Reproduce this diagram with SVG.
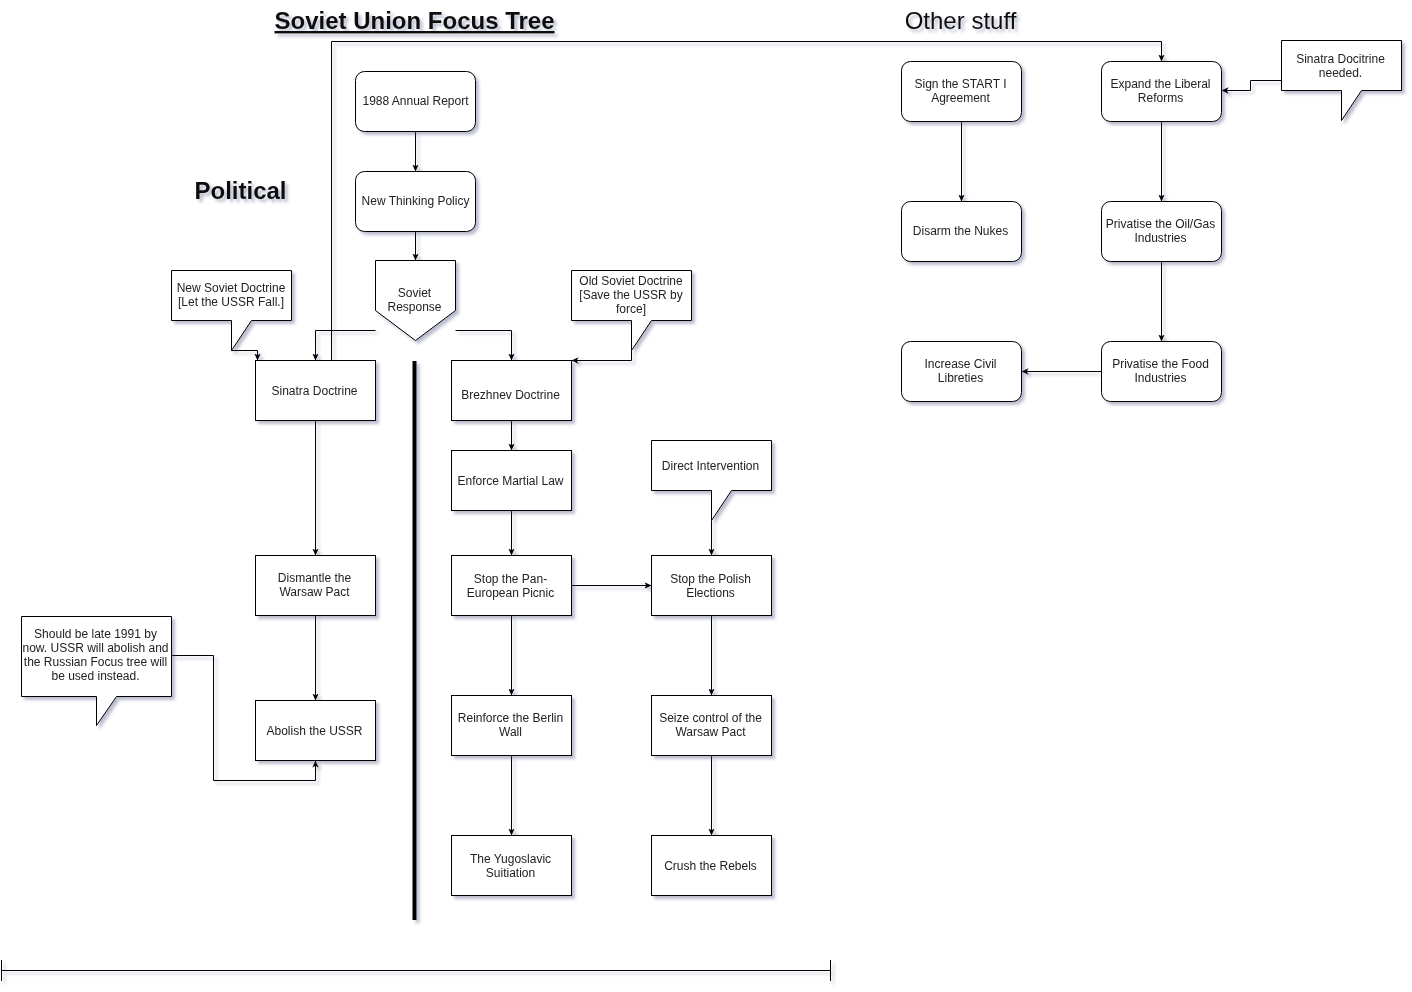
<svg xmlns="http://www.w3.org/2000/svg" width="1412" height="992" viewBox="0 0 1412 992">
<defs>
<filter id="sh" filterUnits="userSpaceOnUse" x="0" y="0" width="1412" height="992">
<feGaussianBlur in="SourceAlpha" stdDeviation="1.7"/>
<feOffset dx="3" dy="3" result="b"/>
<feFlood flood-color="#3D4574" flood-opacity="0.35"/>
<feComposite in2="b" operator="in"/>
<feMerge><feMergeNode/><feMergeNode in="SourceGraphic"/></feMerge>
</filter>
<marker id="arr" viewBox="0 0 10 10" refX="10" refY="5" markerWidth="7" markerHeight="7" orient="auto" markerUnits="userSpaceOnUse">
<path d="M0,0.5 L10,5 L0,9.5 L2.5,5 Z" fill="#000"/>
</marker>
<style>
.box{fill:#fff;stroke:#000;stroke-width:1}
.t{font-family:"Liberation Sans",Arial,Helvetica,sans-serif;font-size:12px;fill:#222;text-anchor:middle}
.c{fill:none;stroke:#000;stroke-width:1}
.a{marker-end:url(#arr)}
.h{font-family:"Liberation Sans",Arial,Helvetica,sans-serif;font-size:24px;fill:#111;text-anchor:middle}
</style>
</defs>
<g filter="url(#sh)">
<text class="h" x="414.5" y="29" font-weight="bold" text-decoration="underline">Soviet Union Focus Tree</text>
<text class="h" x="960.5" y="29">Other stuff</text>
<text class="h" x="240.5" y="199" font-weight="bold">Political</text>
</g>
<g id="connectors" filter="url(#sh)">
<path class="c a" d="M415.5,131.5 V171.5"/>
<path class="c a" d="M415.5,231.5 V260.5"/>
<path class="c a" d="M375.5,330.5 H315.5 V360.5"/>
<path class="c a" d="M455.5,330.5 H511.5 V360.5"/>
<path class="c a" d="M231.5,350.5 H257.5 V360.5"/>
<path class="c a" d="M631.5,350.5 V360.5 H571.5"/>
<path class="c a" d="M331.5,360.5 V41.5 H1161.5 V61.5"/>
<path class="c a" d="M315.5,420.5 V555.5"/>
<path class="c a" d="M315.5,615.5 V700.5"/>
<path class="c a" d="M171.5,655.5 H213.5 V780.5 H315.5 V760.5"/>
<path class="c a" d="M511.5,420.5 V450.5"/>
<path class="c a" d="M511.5,510.5 V555.5"/>
<path class="c a" d="M571.5,585.5 H651.5"/>
<path class="c a" d="M511.5,615.5 V695.5"/>
<path class="c a" d="M511.5,755.5 V835.5"/>
<path class="c a" d="M711.5,520.5 V555.5"/>
<path class="c a" d="M711.5,615.5 V695.5"/>
<path class="c a" d="M711.5,755.5 V835.5"/>
<path class="c a" d="M961.5,121.5 V201.5"/>
<path class="c a" d="M1161.5,121.5 V201.5"/>
<path class="c a" d="M1161.5,261.5 V341.5"/>
<path class="c a" d="M1101.5,371.5 H1021.5"/>
<path class="c a" d="M1281.5,80.5 H1250.5 V90.5 H1221.5"/>
<path d="M414.5,361 V920" stroke="#000" stroke-width="4" fill="none"/>
<path class="c" d="M1,970.5 H830.5 M1.5,960 V981 M830.5,960 V981"/>
</g>
<g filter="url(#sh)">
<g id="n1988"><rect class="box" x="355.5" y="71.5" width="120" height="60" rx="9"/><text class="t" x="415.5" y="105">1988 Annual Report</text></g>
<g id="nNewThinking"><rect class="box" x="355.5" y="171.5" width="120" height="60" rx="9"/><text class="t" x="415.5" y="205">New Thinking Policy</text></g>
<g id="nSovietResponse"><path class="box" d="M375.5,260.5 H455.5 V310.5 L415.5,340.5 L375.5,310.5 Z"/><text class="t" x="414.5" y="297">Soviet</text><text class="t" x="414.5" y="311">Response</text></g>
<g id="cNewSoviet"><path class="box" d="M171.5,270.5 H291.5 V320.5 H251.5 L231.5,350.5 V320.5 H171.5 Z"/><text class="t" x="231" y="292">New Soviet Doctrine</text><text class="t" x="231" y="306">[Let the USSR Fall.]</text></g>
<g id="cOldSoviet"><path class="box" d="M571.5,270.5 H691.5 V320.5 H651.5 L631.5,350.5 V320.5 H571.5 Z"/><text class="t" x="631" y="285">Old Soviet Doctrine</text><text class="t" x="631" y="299">[Save the USSR by</text><text class="t" x="631" y="313">force]</text></g>
<g id="nSinatra"><rect class="box" x="255.5" y="360.5" width="120" height="60"/><text class="t" x="314.5" y="395">Sinatra Doctrine</text></g>
<g id="nDismantle"><rect class="box" x="255.5" y="555.5" width="120" height="60"/><text class="t" x="314.5" y="582">Dismantle the</text><text class="t" x="314.5" y="596">Warsaw Pact</text></g>
<g id="nAbolish"><rect class="box" x="255.5" y="700.5" width="120" height="60"/><text class="t" x="314.5" y="735">Abolish the USSR</text></g>
<g id="cShouldBe"><path class="box" d="M21.5,616.5 H171.5 V696.5 H116.5 L96.5,725.5 V696.5 H21.5 Z"/><text class="t" x="95.5" y="638">Should be late 1991 by</text><text class="t" x="95.5" y="652">now. USSR will abolish and</text><text class="t" x="95.5" y="666">the Russian Focus tree will</text><text class="t" x="95.5" y="680">be used instead.</text></g>
<g id="nBrezhnev"><rect class="box" x="451.5" y="360.5" width="120" height="60"/><text class="t" x="510.5" y="399">Brezhnev Doctrine</text></g>
<g id="nEnforce"><rect class="box" x="451.5" y="450.5" width="120" height="60"/><text class="t" x="510.5" y="485">Enforce Martial Law</text></g>
<g id="nPan"><rect class="box" x="451.5" y="555.5" width="120" height="60"/><text class="t" x="510.5" y="583">Stop the Pan-</text><text class="t" x="510.5" y="597">European Picnic</text></g>
<g id="nReinforce"><rect class="box" x="451.5" y="695.5" width="120" height="60"/><text class="t" x="510.5" y="722">Reinforce the Berlin</text><text class="t" x="510.5" y="736">Wall</text></g>
<g id="nYugo"><rect class="box" x="451.5" y="835.5" width="120" height="60"/><text class="t" x="510.5" y="863">The Yugoslavic</text><text class="t" x="510.5" y="877">Suitiation</text></g>
<g id="cDirect"><path class="box" d="M651.5,440.5 H771.5 V490.5 H731.5 L711.5,520.5 V490.5 H651.5 Z"/><text class="t" x="710.5" y="470">Direct Intervention</text></g>
<g id="nPolish"><rect class="box" x="651.5" y="555.5" width="120" height="60"/><text class="t" x="710.5" y="583">Stop the Polish</text><text class="t" x="710.5" y="597">Elections</text></g>
<g id="nSeize"><rect class="box" x="651.5" y="695.5" width="120" height="60"/><text class="t" x="710.5" y="722">Seize control of the</text><text class="t" x="710.5" y="736">Warsaw Pact</text></g>
<g id="nCrush"><rect class="box" x="651.5" y="835.5" width="120" height="60"/><text class="t" x="710.5" y="870">Crush the Rebels</text></g>
<g id="nStart"><rect class="box" x="901.5" y="61.5" width="120" height="60" rx="9"/><text class="t" x="960.5" y="88">Sign the START I</text><text class="t" x="960.5" y="102">Agreement</text></g>
<g id="nExpand"><rect class="box" x="1101.5" y="61.5" width="120" height="60" rx="9"/><text class="t" x="1160.5" y="88">Expand the Liberal</text><text class="t" x="1160.5" y="102">Reforms</text></g>
<g id="cSinatraNeeded"><path class="box" d="M1281.5,40.5 H1401.5 V90.5 H1361.5 L1341.5,120.5 V90.5 H1281.5 Z"/><text class="t" x="1340.5" y="63">Sinatra Docitrine</text><text class="t" x="1340.5" y="77">needed.</text></g>
<g id="nDisarm"><rect class="box" x="901.5" y="201.5" width="120" height="60" rx="9"/><text class="t" x="960.5" y="235">Disarm the Nukes</text></g>
<g id="nOilGas"><rect class="box" x="1101.5" y="201.5" width="120" height="60" rx="9"/><text class="t" x="1160.5" y="228">Privatise the Oil/Gas</text><text class="t" x="1160.5" y="242">Industries</text></g>
<g id="nFood"><rect class="box" x="1101.5" y="341.5" width="120" height="60" rx="9"/><text class="t" x="1160.5" y="368">Privatise the Food</text><text class="t" x="1160.5" y="382">Industries</text></g>
<g id="nCivil"><rect class="box" x="901.5" y="341.5" width="120" height="60" rx="9"/><text class="t" x="960.5" y="368">Increase Civil</text><text class="t" x="960.5" y="382">Libreties</text></g>
</g>
</svg>
